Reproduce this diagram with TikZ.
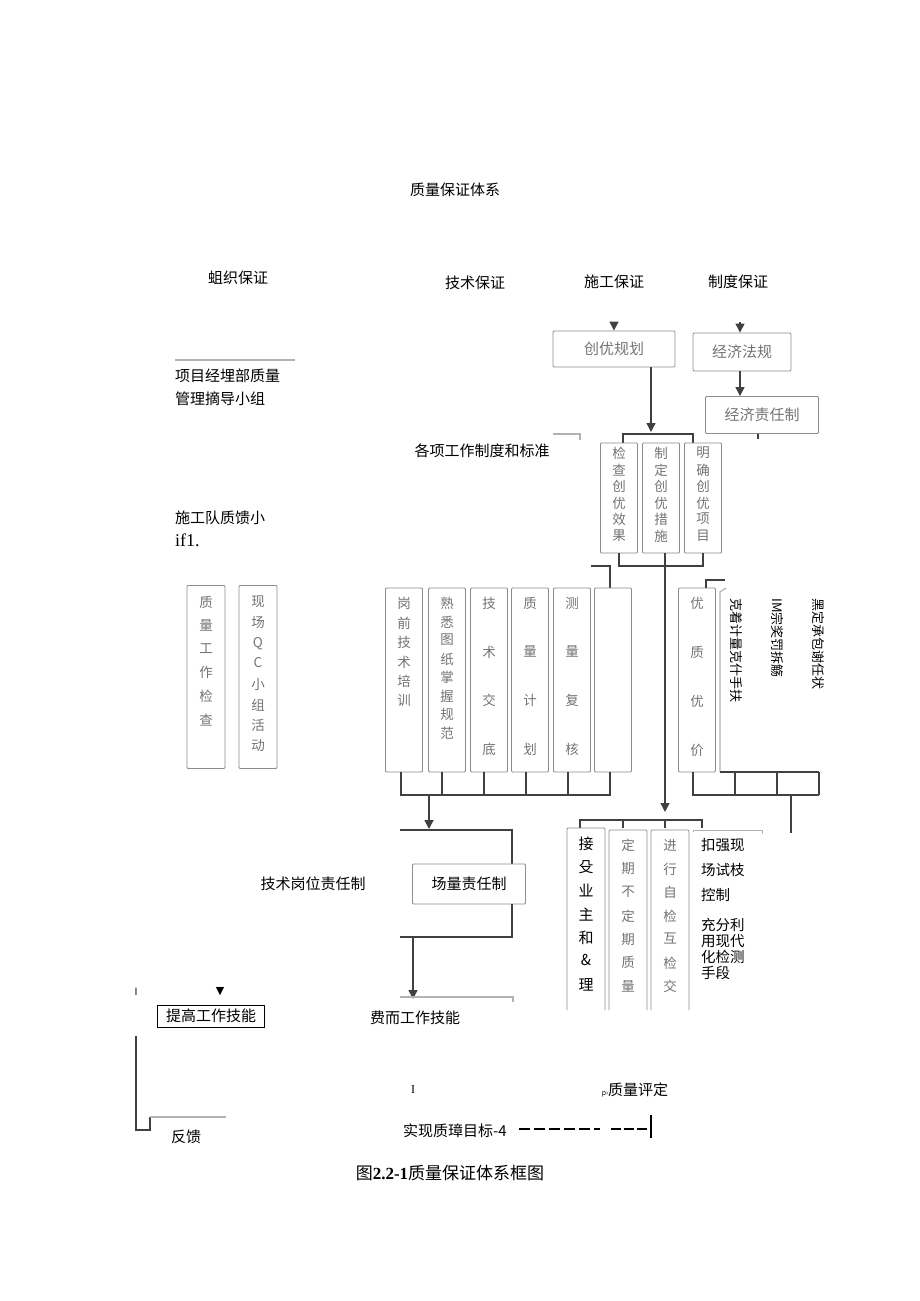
\documentclass[tikz,border=0pt]{standalone}
\usetikzlibrary{arrows.meta}
\usepackage{fontspec}
\setmainfont{Liberation Serif}
\newfontfamily\cjk{Noto Sans CJK SC}
\newfontfamily\djv{DejaVu Sans}
\newcommand\vcolumn[5][vt]{\foreach \cc [count=\ii] in {#5} {\node[#1] at (#2,#3+\ii*#4-#4) {\cc};}}
\begin{document}
\begin{tikzpicture}[x=1pt,y=-1pt,
  every node/.style={font=\cjk\fontsize{15}{17}\selectfont, inner sep=0pt},
  gbox/.style={draw=black!45, line width=0.9pt, rounded corners=1pt},
  gtxt/.style={text=black!55, font=\cjk\fontsize{13.5}{15}\selectfont},
  ln/.style={draw=black!75, line width=1.4pt},
  gl/.style={draw=black!30, line width=1.2pt},
  arr/.style={ln, -{Triangle[length=9pt,width=9pt]}},
  vt/.style={gtxt, anchor=north},
  vtb/.style={anchor=north}]
\useasboundingbox (0,0) rectangle (920,1301);
% titles
\node (title) at (455,190) {质量保证体系};
\node (h1) at (238,278) {蛆织保证};
\node (h2) at (475,283) {技术保证};
\node (h3) at (614,282) {施工保证};
\node (h4) at (738,282) {制度保证};
% top boxes
\node[gbox, minimum width=122pt, minimum height=36pt, text=black!55] (cy) at (614,349) {创优规划};
\node[gbox, minimum width=98pt, minimum height=38pt, text=black!55] (jf) at (742,352) {经济法规};
\node[gbox, minimum width=113pt, minimum height=37pt, text=black!55] (jz) at (762,415) {经济责任制};
\coordinate (a1) at (614,322); \draw[arr] (a1) -- (cy.north);
\coordinate (a2) at (740,322); \draw[arr] (a2) -- (jf.north -| a2);
\draw[arr] (jf.south -| a2) -- (jz.north -| a2);
\draw[ln] (758,434) -- (758,439);
\coordinate (b1) at (651,432); \draw[arr] (cy.south -| b1) -- (b1);
\draw[ln] (623,443) -- (623,434) -- (693,434) -- (693,443);
\draw[gl] (553,434) -- (580,434) -- (580,440);
\node (gx) at (482,451) {各项工作制度和标准};
% three boxes
\node[gbox, minimum width=37pt, minimum height=110pt] (c1) at (619,498) {};
\node[gbox, minimum width=37pt, minimum height=110pt] (c2) at (661,498) {};
\node[gbox, minimum width=37pt, minimum height=110pt] (c3) at (703,498) {};
\vcolumn{619}{447}{16.5}{检,查,创,优,效,果}
\vcolumn{661}{447}{16.5}{制,定,创,优,措,施}
\vcolumn{703}{447}{16.5}{明,确,创,优,项,目}
\draw[ln] (c1.south) -- (619,566) -- (703,566) -- (c3.south);
\coordinate (m1) at (665,812); \draw[arr] (c2.south -| m1) -- (m1);
\draw[ln] (591,566) -- (610,566) -- (610,588);
% tech boxes
\foreach \xx/\nn in {404/t1, 447/t2, 489/t3, 530/t4, 572/t5, 613/t6}
  {\node[gbox, minimum width=37pt, minimum height=184pt] (\nn) at (\xx,680) {};}
\vcolumn{404}{597}{19.5}{岗,前,技,术,培,训}
\vcolumn{447}{597}{18.5}{熟,悉,图,纸,掌,握,规,范}
\vcolumn{489}{597}{48.5}{技,术,交,底}
\vcolumn{530}{597}{48.5}{质,量,计,划}
\vcolumn{572}{597}{48.5}{测,量,复,核}
\draw[ln] (401,772) -- (401,795) -- (610,795) -- (610,772);
\foreach \xx in {442,484,526,568} {\draw[ln] (\xx,772) -- (\xx,795);}
\coordinate (d1) at (429,829); \draw[arr] (429,795) -- (d1);
% right side
\node[gbox, minimum width=37pt, minimum height=184pt] (yz) at (697,680) {};
\vcolumn{697}{597}{49}{优,质,优,价}
\draw[gl] (720,772) -- (720,592) -- (726,588);
\draw[ln] (706,588) -- (706,580) -- (725,580);
\node[rotate=-90, anchor=west, font=\cjk\fontsize{13}{15}\selectfont] (r1) at (736,598) {克着计量克什手扶};
\node[rotate=-90, anchor=west, font=\cjk\fontsize{13}{15}\selectfont] (r2) at (778,598) {IM宗奖罚拆觞};
\node[rotate=-90, anchor=west, font=\cjk\fontsize{13}{15}\selectfont] (r3) at (818,598) {黑定承包谢任状};
\draw[ln] (693,772) -- (693,795) -- (819,795);
\draw[ln] (720,772) -- (819,772);
\foreach \xx in {735,777,819} {\draw[ln] (\xx,772) -- (\xx,795);}
\draw[ln] (791,795) -- (791,833);
% bottom right boxes
\draw[ln] (580,828) -- (580,820) -- (702,820) -- (702,828);
\foreach \xx in {623,665} {\draw[ln] (\xx,820) -- (\xx,828);}
\draw[gbox] (567,1010) -- (567,828) -- (605,828) -- (605,1010);
\draw[gbox] (609,1010) -- (609,830) -- (647,830) -- (647,1010);
\draw[gbox] (651,1010) -- (651,830) -- (689,830) -- (689,1010);
\draw[gl, line width=0.8pt] (693,832) -- (693,830) -- (762,830) -- (762,834);
\vcolumn[vtb]{586}{837}{23.5}{接,殳,业,主,和,\&,理}
\vcolumn{628}{839}{23.5}{定,期,不,定,期,质,量}
\vcolumn{670}{839}{23.5}{进,行,自,检,互,检,交}
\node[anchor=north west, align=left, font=\cjk\fontsize{14.5}{25}\selectfont] (k1) at (701,838) {扣强现\\场试枝\\控制};
\node[anchor=north west, align=left, font=\cjk\fontsize{14.5}{16}\selectfont] (k2) at (701,918) {充分利\\用现代\\化检测\\手段};
% responsibility
\draw[ln] (400,830) -- (512,830) -- (512,864);
\node[gbox, minimum width=113pt, minimum height=40pt] (cl) at (469,884) {场量责任制};
\draw[ln] (512,904) -- (512,937) -- (400,937);
\coordinate (d2) at (413,999); \draw[arr] (413,937) -- (d2);
\draw[gl] (400,997) -- (513,997) -- (513,1002);
\node (js) at (313,884) {技术岗位责任制};
\node (fe) at (415,1018) {费而工作技能};
% left column
\draw[gl] (175,360) -- (295,360);
\node[anchor=west] (p1) at (175,376) {项目经埋部质量};
\node[anchor=west] (p2) at (175,399) {管理摘导小组};
\node[anchor=west] (p3) at (175,518) {施工队质馈小};
\node[anchor=west, font=\fontsize{18}{19}\selectfont] (p4) at (175,540) {if1.};
\node[gbox, minimum width=38pt, minimum height=183pt] (l1) at (206,677) {};
\vcolumn{206}{596}{23.5}{质,量,工,作,检,查}
\node[gbox, minimum width=38pt, minimum height=183pt] (l2) at (258,677) {};
\vcolumn{258}{596}{20.5}{现,场,Q,C,小,组,活,动}
\node (i1) at (136,992) {\fontsize{10}{10}\selectfont I};
\node[font=\djv\fontsize{11}{11}\selectfont] (tri) at (220,992) {▼};
\node[draw=black, line width=0.7pt, inner sep=2pt, minimum width=107pt, minimum height=22pt] (tg) at (211,1016) {提高工作技能};
\draw[ln] (136,1036) -- (136,1130) -- (150,1130) -- (150,1117);
\draw[gl] (150,1117) -- (226,1117);
\node (fk) at (186,1137) {反馈};
% bottom
\node[font=\fontsize{12}{12}\selectfont] (i2) at (413,1090) {I};
\node (zp) at (635,1090) {{\fontsize{7}{7}\selectfont p›}质量评定};
\node (sx) at (455,1131) {实现质璋目标{\itshape -4}};
\draw[line width=2.8pt, dash pattern=on 11pt off 4pt] (519,1129) -- (600,1129);
\draw[line width=2.8pt, dash pattern=on 10pt off 3pt] (611,1129) -- (648,1129);
\draw[line width=2.8pt] (651,1115) -- (651,1138);
\node[font=\cjk\fontsize{17}{19}\selectfont] (cap) at (450,1173) {图\textbf{\fontspec{Liberation Serif}2.2-1}质量保证体系框图};
\end{tikzpicture}
\end{document}
